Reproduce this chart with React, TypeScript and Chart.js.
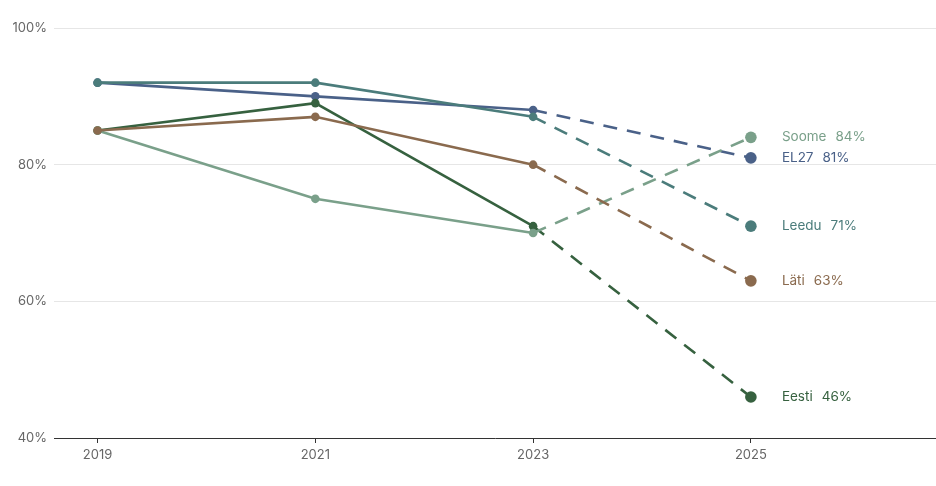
import { useEffect, useRef } from "react"
import { Chart, registerables, type ChartConfiguration, type Plugin } from "chart.js"

Chart.register(...registerables)

// Years on the x axis
const years = [2019, 2021, 2023, 2025]

// Series (share, %), top-drawn first
const seriesNames = ["Läti", "Soome", "Eesti", "Leedu", "EL27"]
const latiValues = [85, 87, 80, 63]
const soomeValues = [85, 75, 70, 84]
const eestiValues = [85, 89, 71, 46]
const leeduValues = [92, 92, 87, 71]
const el27Values = [92, 90, 88, 81]
const seriesColors = ["#8a6a4e", "#7aa08a", "#36613f", "#4b7c7b", "#4a6188"]

const yTicks = [40, 60, 80, 100]

const FONT = "Inter, 'Noto Sans', sans-serif"

const endLabels: Plugin<"line"> = {
  id: "endLabels",
  afterDatasetsDraw(chart) {
    const { ctx } = chart
    ctx.save()
    ctx.font = `13.5px ${FONT}`
    ctx.textBaseline = "middle"
    ctx.textAlign = "left"
    chart.data.datasets.forEach((ds, i) => {
      const meta = chart.getDatasetMeta(i)
      const last = meta.data[meta.data.length - 1]
      if (!last) return
      const v = ds.data[ds.data.length - 1] as { x: number; y: number }
      const x0 = last.x + 31
      ctx.fillStyle = seriesColors[i]
      const name = String(ds.label)
      ctx.fillText(name, x0, last.y)
      ctx.fillText(`${v.y}%`, x0 + ctx.measureText(name).width + 9, last.y)
    })
    ctx.restore()
  },
}

export default function App() {
  const chartRef = useRef<HTMLCanvasElement>(null)
  const chartInstance = useRef<Chart | null>(null)

  useEffect(() => {
    if (!chartRef.current) return
    if (chartInstance.current) chartInstance.current.destroy()
    const ctx = chartRef.current.getContext("2d")
    if (!ctx) return

    const allValues = [latiValues, soomeValues, eestiValues, leeduValues, el27Values]

    const config: ChartConfiguration<"line"> = {
      type: "line",
      data: {
        datasets: seriesNames.map((name, i) => ({
          label: name,
          data: years.map((y, j) => ({ x: y, y: allValues[i][j] })),
          borderColor: seriesColors[i],
          backgroundColor: seriesColors[i],
          pointBackgroundColor: seriesColors[i],
          pointBorderWidth: 0,
          pointRadius: (c: any) => (c.dataIndex === years.length - 1 ? 5.8 : 4.3),
          borderWidth: 2.6,
          tension: 0,
          segment: {
            borderDash: (c: any) => (c.p1DataIndex === years.length - 1 ? [14, 10] : undefined),
          },
        })),
      },
      options: {
        animation: false,
        responsive: true,
        maintainAspectRatio: false,
        layout: { autoPadding: false, padding: { top: 28, right: 0, left: 0, bottom: 0 } },
        scales: {
          x: {
            type: "linear",
            min: 2018.6,
            max: 2026.7,
            afterBuildTicks: (scale) => {
              scale.ticks = years.map((v) => ({ value: v }))
            },
            afterFit: (scale) => {
              scale.height = 48
              scale.paddingRight = 0
              scale.paddingLeft = 0
            },
            grid: {
              drawOnChartArea: false,
              drawTicks: true,
              tickLength: 5,
              color: "#333",
            },
            border: { display: true, color: "#333", width: 1 },
            ticks: {
              color: "#666",
              font: { family: FONT, size: 13 },
              padding: 4,
              callback: (v) => String(v),
              maxRotation: 0,
            },
          },
          y: {
            min: 40,
            max: 100,
            afterBuildTicks: (scale) => {
              scale.ticks = yTicks.map((v) => ({ value: v }))
            },
            afterFit: (scale) => {
              scale.width = 54
            },
            grid: { color: "#e6e6e6", drawTicks: false, lineWidth: 1 },
            border: { display: false },
            ticks: {
              color: "#666",
              font: { family: FONT, size: 13 },
              padding: 7,
              callback: (v) => `${v}%`,
            },
          },
        },
        plugins: {
          legend: { display: false },
          tooltip: { enabled: false },
        },
      },
      plugins: [endLabels],
    }

    chartInstance.current = new Chart(ctx, config)
    return () => {
      if (chartInstance.current) {
        chartInstance.current.destroy()
        chartInstance.current = null
      }
    }
  }, [])

  return (
    <div style={{ position: "fixed", left: 0, top: 0, width: 936, height: 486, background: "#fff" }}>
      <canvas ref={chartRef} />
    </div>
  )
}
